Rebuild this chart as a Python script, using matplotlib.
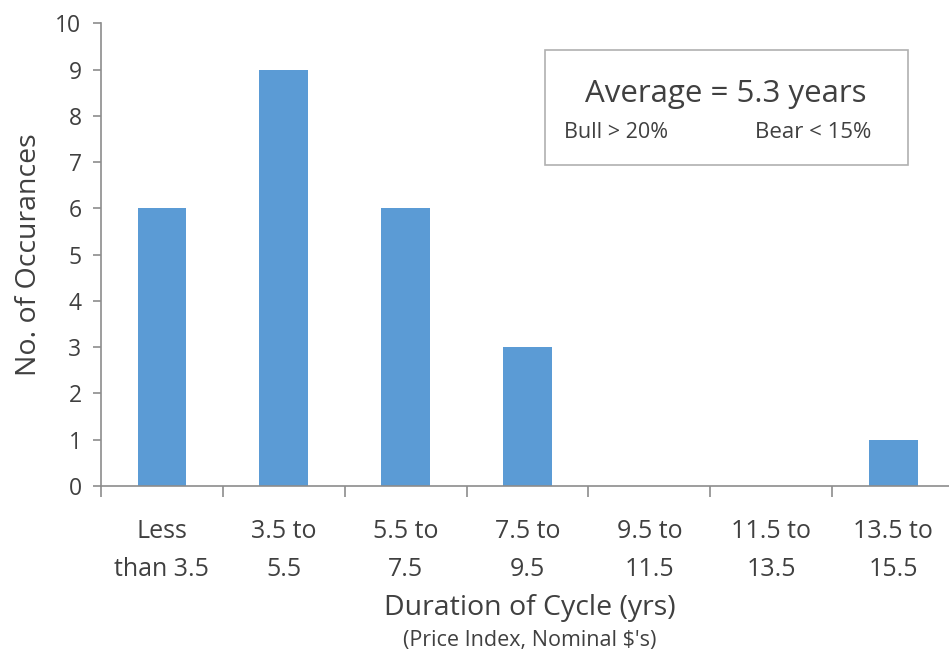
import matplotlib.pyplot as plt
import numpy as np

plt.rcParams['font.family'] = ['Open Sans', 'DejaVu Sans']

categories = ['Less\nthan 3.5', '3.5 to\n5.5', '5.5 to\n7.5', '7.5 to\n9.5',
              '9.5 to\n11.5', '11.5 to\n13.5', '13.5 to\n15.5']
occurrences = [6, 9, 6, 3, 0, 0, 1]
y_ticks = list(range(0, 11))

bar_color = '#5b9bd5'
axis_grey = '#8c8c8c'
text_grey = '#404040'

fig = plt.figure(figsize=(9.49, 6.64), dpi=100)
ax = fig.add_axes([0.1064, 0.268, 0.899, 0.697])

x = np.arange(len(categories))
ax.bar(x, occurrences, width=0.40, color=bar_color, zorder=2)

ax.set_xlim(-0.5, len(categories) - 0.5)
ax.set_ylim(0, 10)
ax.set_yticks(y_ticks)

# category labels sit between boundary ticks
ax.set_xticks(np.arange(len(categories) + 1) - 0.5)
ax.set_xticklabels([])
ax.set_xticks(x, minor=True)
ax.set_xticklabels(categories, minor=True, fontsize=18, color=text_grey,
                   linespacing=1.65)
ax.tick_params(axis='x', which='major', direction='out', length=8,
               width=1.2, color=axis_grey)
ax.tick_params(axis='x', which='minor', length=0, pad=24)
ax.tick_params(axis='y', direction='out', length=6, width=1.2,
               color=axis_grey, labelsize=16.5, labelcolor=text_grey, pad=8)

for s in ['top', 'right']:
    ax.spines[s].set_visible(False)
for s in ['left', 'bottom']:
    ax.spines[s].set_color(axis_grey)
    ax.spines[s].set_linewidth(1.2)

ax.set_ylabel('No. of Occurances', fontsize=20.5, color=text_grey, labelpad=9)

fig.text(0.558, 0.084, 'Duration of Cycle (yrs)', fontsize=20.5,
         color=text_grey, ha='center', va='center')
fig.text(0.558, 0.036, "(Price Index, Nominal $'s)", fontsize=15.5,
         color=text_grey, ha='center', va='center')

# annotation box
box = plt.Rectangle((545 / 949, 1 - 165 / 664), 363 / 949, 115 / 664,
                    transform=fig.transFigure, facecolor='white',
                    edgecolor='#b0b0b0', linewidth=1.2)
fig.add_artist(box)
fig.text(726 / 949, 1 - 94 / 664, 'Average = 5.3 years', fontsize=22.5,
         color=text_grey, ha='center', va='center')
fig.text(616 / 949, 1 - 132 / 664, 'Bull > 20%', fontsize=15.5,
         color=text_grey, ha='center', va='center')
fig.text(813 / 949, 1 - 132 / 664, 'Bear < 15%', fontsize=16,
         color=text_grey, ha='center', va='center')

fig.savefig('out.png', dpi=100)
